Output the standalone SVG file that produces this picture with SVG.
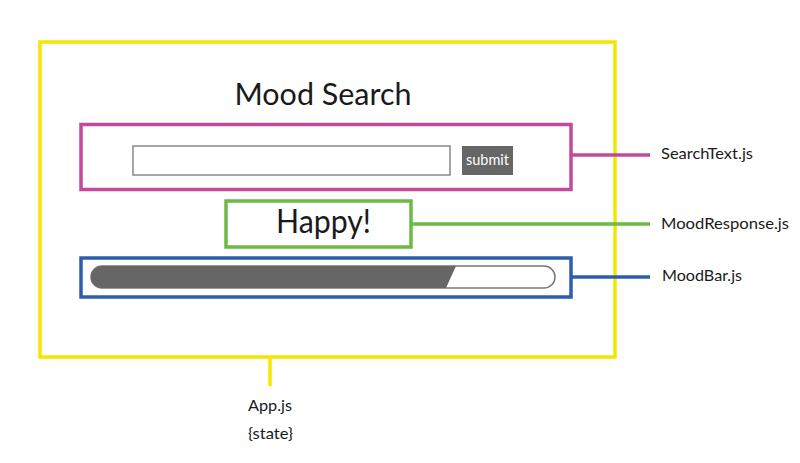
<svg xmlns="http://www.w3.org/2000/svg" width="800" height="463" viewBox="0 0 800 463">
<style>
.t{font-family:Lato,"Open Sans","Liberation Sans",sans-serif;fill:#1a1a1a}
.lbl{font-size:16px}
.box{fill:none;stroke-width:3.5}
.conn{fill:none;stroke-width:3.5}
</style>
<rect width="800" height="463" fill="#ffffff"/>
<g id="app">
<rect x="40" y="42" width="575" height="315" class="box" stroke="#f4e600" stroke-width="4"/>
<text class="t" x="323" y="105" font-size="31" text-anchor="middle" textLength="177" lengthAdjust="spacingAndGlyphs">Mood Search</text>
</g>
<g id="searchText">
<rect x="81" y="124.5" width="490" height="65" class="box" stroke="#c4499b"/>
<rect x="133" y="146" width="317" height="29" fill="#ffffff" stroke="#888888" stroke-width="1.5"/>
<rect x="462" y="146" width="51" height="29" fill="#666666"/>
<text class="t" x="487.5" y="165" font-size="15" text-anchor="middle" style="fill:#ffffff" textLength="43" lengthAdjust="spacingAndGlyphs">submit</text>
</g>
<g id="moodResponse">
<rect x="226" y="201" width="185" height="46" class="box" stroke="#6cb945"/>
<text class="t" x="323.5" y="233" font-size="32" text-anchor="middle" textLength="95" lengthAdjust="spacingAndGlyphs">Happy!</text>
</g>
<g id="moodBar">
<rect x="81" y="258" width="490" height="39" class="box" stroke="#2e5eaa"/>
<rect x="91" y="266" width="464" height="22" rx="11" fill="#ffffff" stroke="#777777" stroke-width="1.5"/>
<path d="M102 266 L456 266 L446 288 L102 288 A11 11 0 0 1 102 266 Z" fill="#666666"/>
</g>
<g id="connectors">
<line x1="571" y1="155" x2="650" y2="155" class="conn" stroke="#c4499b"/>
<line x1="411" y1="224" x2="650" y2="224" class="conn" stroke="#6cb945"/>
<line x1="571" y1="277" x2="650" y2="277" class="conn" stroke="#2e5eaa"/>
<line x1="270" y1="357" x2="270" y2="386" class="conn" stroke="#f4e600" stroke-width="4"/>
</g>
<g id="labels">
<text class="t lbl" x="661" y="159" textLength="92" lengthAdjust="spacingAndGlyphs">SearchText.js</text>
<text class="t lbl" x="661" y="229" textLength="128" lengthAdjust="spacingAndGlyphs">MoodResponse.js</text>
<text class="t lbl" x="662" y="281" textLength="80" lengthAdjust="spacingAndGlyphs">MoodBar.js</text>
<text class="t lbl" x="270" y="411" text-anchor="middle" textLength="44" lengthAdjust="spacingAndGlyphs">App.js</text>
<text class="t lbl" x="270.5" y="439" text-anchor="middle" textLength="45" lengthAdjust="spacingAndGlyphs">{state}</text>
</g>
</svg>
